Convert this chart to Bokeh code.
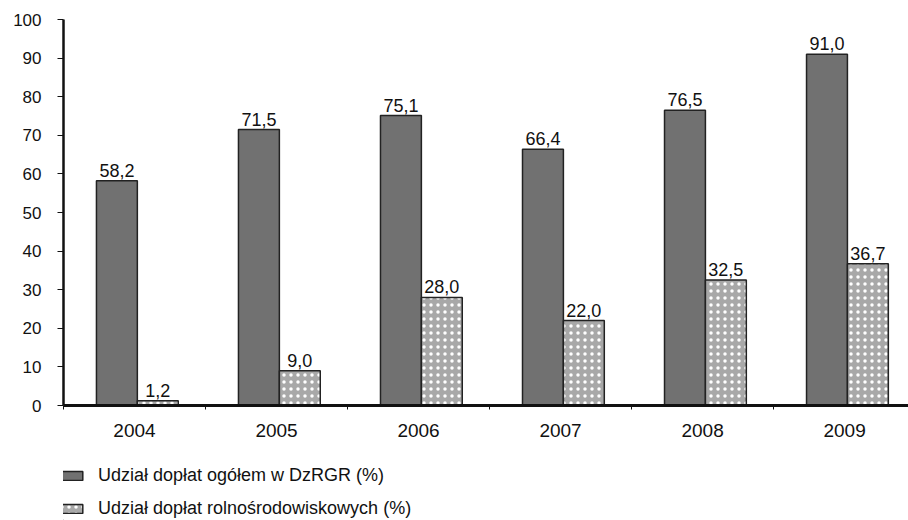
from bokeh.plotting import figure
from bokeh.layouts import column
from bokeh.models import Range1d, FixedTicker, ColumnDataSource, Legend, LegendItem, LabelSet
from bokeh.embed import file_html
from bokeh.resources import INLINE
from bokeh.core.properties import value

years = ["2004", "2005", "2006", "2007", "2008", "2009"]
total_share = [58.2, 71.5, 75.1, 66.4, 76.5, 91.0]
agri_env_share = [1.2, 9.0, 28.0, 22.0, 32.5, 36.7]
series_names = ["Udział dopłat ogółem w DzRGR (%)", "Udział dopłat rolnośrodowiskowych (%)"]

FONT = "Liberation Sans"
DARK = dict(fill_color="#717171", line_color="#222222", line_width=1.5)
LIGHT = dict(fill_color="#a8a8a8", line_color="#222222", line_width=1.5,
             hatch_pattern="dot", hatch_color="white", hatch_scale=7, hatch_weight=4, hatch_alpha=1.0)

idx = list(range(len(years)))
src1 = ColumnDataSource(dict(x=[i + 0.376 for i in idx], top=total_share,
                             lab=[f"{v:.1f}".replace(".", ",") for v in total_share]))
src2 = ColumnDataSource(dict(x=[i + 0.664 for i in idx], top=agri_env_share,
                             lab=[f"{v:.1f}".replace(".", ",") for v in agri_env_share]))

p = figure(frame_width=845, frame_height=386, output_backend="svg", toolbar_location=None,
           x_range=Range1d(0, 5.95), y_range=Range1d(0, 100),
           min_border_left=63, min_border_top=19, min_border_right=0, min_border_bottom=50)
p.outline_line_color = None
p.grid.grid_line_color = None

p.vbar(x="x", top="top", width=0.288, bottom=0, source=src1, **DARK)
p.vbar(x="x", top="top", width=0.288, bottom=0, source=src2, **LIGHT)

for s in (src1, src2):
    p.add_layout(LabelSet(x="x", y="top", text="lab", source=s, text_align="center",
                          text_baseline="bottom", y_offset=4, text_font=value(FONT),
                          text_font_size="18px", text_color="#111111"))

ya = p.yaxis[0]
ya.ticker = FixedTicker(ticks=list(range(0, 101, 10)))
ya.axis_line_width = 2.5
ya.axis_line_color = "#111111"
ya.major_tick_in = 0
ya.major_tick_out = 6
ya.major_tick_line_color = "#111111"
ya.minor_tick_line_color = None
ya.major_label_text_font = FONT
ya.major_label_text_font_size = "17px"
ya.major_label_text_color = "#111111"
ya.major_label_standoff = 16

xa = p.xaxis[0]
xa.ticker = FixedTicker(ticks=[i + 0.5 for i in idx], minor_ticks=list(range(0, 7)))
xa.major_label_overrides = {i + 0.5: y for i, y in zip(idx, years)}
xa.major_tick_line_color = None
xa.minor_tick_in = 0
xa.minor_tick_out = 4
xa.minor_tick_line_color = "#111111"
xa.axis_line_width = 3
xa.axis_line_color = "#111111"
xa.major_label_text_font = FONT
xa.major_label_text_font_size = "19px"
xa.major_label_text_color = "#111111"
xa.major_label_standoff = 12

# legend panel below the chart (proxy glyphs lie outside its visible range)
lf = figure(width=908, height=65, output_backend="svg", toolbar_location=None,
            x_range=Range1d(0, 1), y_range=Range1d(0, 1), min_border=0,
            x_axis_location=None, y_axis_location=None)
lf.grid.grid_line_color = None
lf.outline_line_color = None
g1 = lf.vbar(x=[-5], top=[-5], bottom=[-6], width=0.1, **DARK)
g2 = lf.vbar(x=[-5], top=[-5], bottom=[-6], width=0.1, **LIGHT)
legend = Legend(items=[LegendItem(label=series_names[0], renderers=[g1]),
                       LegendItem(label=series_names[1], renderers=[g2])],
                orientation="vertical", location=(-5, 1),
                label_text_font=FONT, label_text_font_size="18px", label_text_color="#111111",
                glyph_width=27, glyph_height=11, spacing=12, label_standoff=13,
                padding=0, margin=0, border_line_color=None, background_fill_alpha=0)
lf.add_layout(legend)

layout = column(p, lf, spacing=0)
open("out.html", "w").write(file_html(layout, INLINE))
